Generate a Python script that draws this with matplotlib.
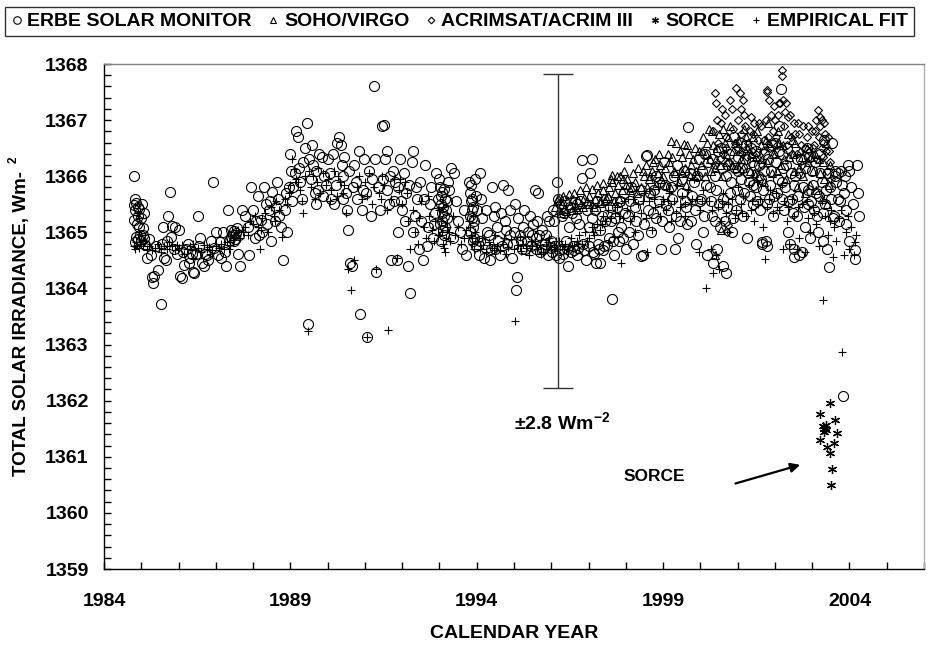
import numpy as np
import matplotlib
matplotlib.use("Agg")
import matplotlib.pyplot as plt

# values: (calendar year, TSI in W/m2)
erbe = [
    (1984.80,1366.00),(1984.81,1365.48),(1984.82,1365.40),(1984.80,1365.22),(1984.83,1364.82),(1984.85,1364.92),
    (1984.86,1365.52),(1984.90,1365.45),(1984.92,1365.30),(1984.95,1365.10),(1984.97,1364.95),(1985.00,1364.85),
    (1985.02,1365.50),(1985.05,1365.08),(1985.08,1364.90),(1985.10,1364.78),
    (1985.15,1364.55),(1985.20,1364.88),(1985.28,1364.20),(1985.32,1364.10),(1985.35,1364.22),(1985.45,1364.32),
    (1985.52,1363.73),(1985.55,1364.80),(1985.58,1365.10),(1985.62,1364.55),(1985.65,1364.50),(1985.72,1365.30),
    (1985.76,1365.72),(1985.80,1364.92),(1985.83,1365.12),(1985.90,1365.10),(1985.95,1364.62),(1986.00,1365.05),
    (1986.05,1364.22),(1986.10,1364.18),(1986.15,1364.42),(1986.20,1364.70),(1986.25,1364.80),(1986.30,1364.55),
    (1986.38,1364.30),(1986.42,1364.28),(1986.48,1364.62),(1986.52,1365.30),(1986.58,1364.90),(1986.62,1364.45),
    (1986.68,1364.40),(1986.75,1364.60),(1986.80,1364.50),(1986.88,1364.85),(1986.92,1365.90),(1987.00,1365.00),
    (1987.05,1364.60),(1987.15,1364.55),(1987.20,1365.00),(1987.28,1364.40),(1987.32,1365.40),(1987.40,1364.92),
    (1987.45,1364.95),(1987.50,1365.02),(1987.52,1364.88),(1987.55,1364.98),(1987.60,1364.62),(1987.65,1364.40),
    (1987.70,1365.40),(1987.78,1365.30),(1987.85,1365.10),(1987.90,1364.60),(1987.95,1365.80),
    (1988.00,1365.40),(1988.05,1364.90),(1988.12,1365.65),(1988.20,1365.22),(1988.25,1365.00),(1988.30,1365.80),
    (1988.35,1365.50),(1988.42,1365.40),(1988.48,1364.85),(1988.52,1365.72),(1988.58,1365.20),(1988.65,1365.90),
    (1988.70,1365.30),(1988.75,1365.10),(1988.80,1364.50),(1988.88,1365.70),(1988.92,1365.00),(1988.98,1366.40),
    (1989.02,1366.10),(1989.08,1365.80),(1989.15,1366.80),(1989.20,1366.70),(1989.25,1365.90),(1989.30,1365.60),
    (1989.46,1363.36),(1989.40,1366.50),(1989.45,1366.95),(1989.50,1366.30),(1989.55,1365.95),(1989.60,1366.20),
    (1989.65,1365.70),(1989.70,1365.50),(1989.78,1366.40),(1989.85,1366.35),(1989.90,1366.00),(1989.95,1365.85),
    (1990.02,1366.30),(1990.10,1365.60),(1990.18,1365.50),(1990.25,1366.60),(1990.30,1366.70),(1990.35,1366.55),
    (1990.40,1366.00),(1990.45,1366.35),(1990.48,1365.70),(1990.52,1365.40),(1990.55,1365.05),(1990.60,1364.45),
    (1990.65,1364.40),(1990.70,1366.20),(1990.75,1365.90),(1990.80,1365.60),(1990.88,1363.55),(1990.92,1365.40),
    (1990.98,1366.30),
    (1991.06,1363.14),(1991.10,1366.10),(1991.15,1365.30),(1991.24,1367.60),(1991.30,1364.30),(1991.35,1365.80),
    (1991.45,1366.90),(1991.52,1366.92),(1991.55,1366.30),(1991.60,1366.45),(1991.65,1365.50),(1991.70,1364.50),
    (1991.75,1366.10),(1991.80,1365.90),(1991.85,1364.50),(1991.90,1365.00),(1991.95,1366.30),
    (1992.00,1365.40),(1992.05,1366.05),(1992.10,1365.70),(1992.15,1364.40),(1992.20,1363.92),(1992.25,1366.25),
    (1992.30,1366.45),(1992.35,1365.30),(1992.40,1365.60),(1992.45,1364.70),(1992.50,1365.20),(1992.55,1364.50),
    (1992.62,1366.20),(1992.70,1365.10),(1992.75,1365.50),(1992.82,1364.90),(1992.88,1365.35),(1992.92,1366.05),
    (1993.00,1365.95),(1993.02,1365.80),(1993.03,1365.65),(1993.05,1365.50),(1993.06,1365.35),(1993.08,1365.20),
    (1993.10,1365.05),(1993.12,1364.95),(1993.15,1365.60),(1993.17,1365.40),(1993.20,1365.25),(1993.25,1365.75),
    (1993.30,1366.15),(1993.35,1364.90),(1993.40,1366.05),(1993.45,1365.55),(1993.50,1365.20),(1993.55,1365.00),
    (1993.60,1364.70),(1993.65,1365.40),(1993.70,1364.60),(1993.80,1365.90),(1993.82,1365.70),(1993.84,1365.55),
    (1993.86,1365.40),(1993.88,1365.25),(1993.90,1365.10),(1993.92,1364.90),(1993.95,1365.95),(1993.98,1364.75),
    (1994.05,1364.60),(1994.10,1366.05),(1994.15,1365.25),(1994.20,1364.55),(1994.28,1365.00),(1994.35,1364.50),
    (1994.40,1365.80),(1994.45,1365.30),(1994.50,1364.70),(1994.55,1365.10),(1994.62,1364.60),(1994.70,1365.85),
    (1994.75,1365.20),(1994.80,1364.80),(1994.85,1365.75),(1994.90,1365.40),(1994.95,1364.55),(1995.00,1365.00),
    (1995.05,1363.97),(1995.08,1364.20),(1995.12,1365.25),(1995.18,1364.85),(1995.25,1365.10),(1995.30,1364.70),
    (1995.38,1365.00),(1995.45,1364.75),(1995.50,1365.15),(1995.55,1365.75),(1995.60,1364.90),(1995.65,1365.70),
    (1995.70,1364.65),(1995.75,1365.05),(1995.82,1364.80),(1995.88,1365.30),(1995.92,1364.60),(1996.00,1364.85),
    (1996.05,1365.40),(1996.10,1364.75),(1996.15,1365.90),(1996.20,1364.55),(1996.25,1365.50),(1996.30,1364.70),
    (1996.35,1365.35),(1996.40,1364.85),(1996.45,1364.40),(1996.50,1365.45),(1996.58,1364.75),(1996.65,1365.25),
    (1996.70,1364.60),(1996.78,1365.55),(1996.85,1364.80),(1996.92,1364.50),(1997.00,1365.10),
    (1997.05,1366.05),(1997.08,1366.30),(1997.12,1364.65),(1997.18,1365.40),(1997.25,1364.80),(1997.30,1364.45),
    (1997.35,1365.30),(1997.42,1364.75),(1997.48,1365.60),(1997.55,1364.90),(1997.60,1365.20),(1997.62,1363.82),
    (1997.68,1364.60),(1997.75,1365.45),(1997.82,1364.85),(1997.88,1365.10),(1997.95,1365.70),
    (1998.00,1364.70),(1998.05,1365.30),(1998.12,1365.55),(1998.20,1364.80),(1998.28,1365.20),(1998.35,1365.60),
    (1998.40,1364.57),(1998.47,1364.60),(1998.55,1366.36),(1998.60,1365.40),(1998.68,1365.00),(1998.75,1365.75),
    (1998.82,1365.25),(1998.90,1365.90),(1998.95,1364.70),
    (1999.02,1366.25),(1999.08,1365.50),(1999.15,1365.10),(1999.20,1365.80),(1999.30,1366.00),(1999.35,1365.30),
    (1999.40,1364.90),(1999.50,1365.70),(1999.55,1366.10),(1999.62,1365.45),(1999.68,1366.87),(1999.75,1365.20),
    (1999.82,1365.90),(1999.88,1364.80),(1999.95,1366.30),
    (2000.02,1365.60),(2000.08,1365.00),(2000.12,1366.40),(2000.18,1364.60),(2000.25,1365.80),(2000.30,1365.30),
    (2000.35,1364.45),(2000.40,1366.00),(2000.45,1364.70),(2000.50,1365.50),(2000.55,1366.50),(2000.60,1364.40),
    (2000.65,1365.20),(2000.70,1364.27),(2000.75,1366.20),(2000.80,1365.70),(2000.85,1365.00),(2000.90,1366.70),
    (2000.95,1365.40),
    (2001.00,1366.10),(2001.05,1365.60),(2001.10,1366.60),(2001.15,1365.30),(2001.20,1366.30),(2001.25,1364.90),
    (2001.30,1365.90),(2001.35,1366.50),(2001.40,1365.50),(2001.45,1366.20),(2001.50,1365.80),(2001.55,1366.00),
    (2001.60,1365.40),(2001.65,1364.80),(2001.70,1366.40),(2001.75,1364.85),(2001.80,1364.75),(2001.85,1365.60),
    (2001.90,1366.10),(2001.95,1365.30),
    (2002.00,1366.60),(2002.05,1365.70),(2002.10,1366.90),(2002.15,1367.55),(2002.18,1366.40),(2002.20,1365.90),
    (2002.25,1365.40),(2002.30,1366.20),(2002.35,1365.00),(2002.40,1364.80),(2002.45,1365.60),(2002.50,1364.70),
    (2002.55,1366.00),(2002.60,1365.30),(2002.65,1364.60),(2002.70,1366.30),(2002.75,1365.80),(2002.80,1365.10),
    (2002.85,1366.50),(2002.90,1365.50),(2002.95,1364.90),
    (2003.00,1366.10),(2003.05,1365.40),(2003.10,1365.70),(2003.15,1365.00),(2003.20,1366.40),(2003.25,1365.90),
    (2003.30,1364.85),(2003.35,1365.50),(2003.40,1364.70),(2003.44,1364.39),(2003.48,1365.80),(2003.53,1366.59),
    (2003.58,1365.30),(2003.62,1366.00),(2003.68,1365.60),(2003.72,1365.20),(2003.78,1366.10),(2003.82,1362.08),
    (2003.85,1365.70),(2003.90,1365.40),(2003.95,1366.20),(2003.98,1364.85),
]

erbe_more = [
    (1984.84,1365.60),(1984.88,1365.15),(1984.90,1364.88),(1984.94,1365.42),(1984.98,1365.25),(1985.04,1364.95),
    (1985.06,1365.35),(1985.25,1364.60),(1985.40,1364.75),(1985.68,1364.85),(1985.88,1364.70),(1986.12,1364.65),
    (1986.28,1364.45),(1986.35,1364.62),(1986.55,1364.75),(1986.72,1364.62),(1986.95,1364.72),(1987.10,1364.82),
    (1987.25,1364.65),(1987.35,1364.85),(1987.42,1365.05),(1987.48,1364.85),(1987.58,1365.08),(1987.62,1364.95),
    (1988.08,1365.20),(1988.15,1364.95),(1988.38,1365.15),(1988.45,1365.55),(1988.62,1365.45),(1988.68,1365.60),
    (1988.85,1365.40),(1988.95,1365.80),
    (1989.05,1365.55),(1989.12,1366.05),(1989.22,1366.15),(1989.35,1366.25),(1989.58,1366.55),(1989.68,1366.10),
    (1989.75,1365.75),(1989.88,1365.65),(1990.05,1366.05),(1990.15,1366.40),(1990.22,1365.85),(1990.38,1366.20),
    (1990.42,1365.60),(1990.58,1366.10),(1990.68,1365.80),(1990.85,1366.45),(1990.95,1365.75),
    (1991.02,1365.70),(1991.20,1365.95),(1991.28,1366.30),(1991.40,1365.40),(1991.48,1365.95),(1991.58,1365.75),
    (1991.68,1366.00),(1991.78,1365.55),(1991.88,1365.80),(1991.98,1365.55),(1992.08,1365.20),(1992.18,1365.85),
    (1992.28,1365.00),(1992.38,1365.80),(1992.48,1365.90),(1992.58,1365.60),(1992.66,1364.75),(1992.78,1365.80),
    (1992.85,1365.15),(1992.95,1365.60),
    (1993.01,1365.15),(1993.04,1364.85),(1993.07,1365.72),(1993.09,1365.45),(1993.11,1365.30),(1993.13,1365.78),
    (1993.16,1365.10),(1993.19,1365.55),(1993.22,1365.90),(1993.81,1365.30),(1993.83,1365.00),(1993.85,1365.85),
    (1993.87,1365.60),(1993.89,1364.85),(1993.91,1365.45),(1993.93,1365.20),(1993.97,1365.65),
    (1994.00,1365.40),(1994.08,1364.85),(1994.12,1365.60),(1994.22,1364.80),(1994.25,1365.40),(1994.32,1364.95),
    (1994.38,1364.70),(1994.48,1365.45),(1994.58,1364.85),(1994.65,1365.35),(1994.68,1364.75),(1994.78,1365.05),
    (1994.88,1364.95),(1994.98,1364.80),(1995.02,1365.50),(1995.15,1364.95),(1995.22,1364.70),(1995.28,1365.40),
    (1995.35,1364.85),(1995.42,1365.30),(1995.48,1364.95),(1995.58,1364.70),(1995.62,1365.20),(1995.68,1364.95),
    (1995.78,1364.70),(1995.85,1364.95),(1995.95,1365.20),(1995.98,1364.72),
    (1996.02,1364.65),(1996.08,1365.20),(1996.12,1364.60),(1996.18,1365.60),(1996.22,1364.68),(1996.28,1365.30),
    (1996.32,1364.62),(1996.38,1365.55),(1996.42,1364.70),(1996.48,1365.10),(1996.52,1364.65),(1996.55,1365.35),
    (1996.62,1364.68),(1996.68,1365.50),(1996.72,1364.72),(1996.75,1365.15),(1996.82,1366.29),(1996.83,1365.96),
    (1996.88,1364.68),(1996.95,1365.40),(1997.02,1364.75),(1997.10,1365.25),(1997.15,1364.62),(1997.20,1364.45),
    (1997.22,1365.55),(1997.28,1364.70),(1997.32,1365.05),(1997.38,1364.68),(1997.45,1365.20),(1997.50,1364.78),
    (1997.58,1365.45),(1997.65,1364.85),(1997.72,1365.25),(1997.78,1365.00),(1997.85,1365.55),(1997.92,1364.90),
    (1997.98,1365.35),
    (1998.08,1365.00),(1998.15,1365.80),(1998.25,1365.45),(1998.32,1364.95),(1998.42,1365.75),(1998.50,1365.15),
    (1998.58,1366.38),(1998.65,1365.70),(1998.72,1365.35),(1998.80,1366.00),(1998.88,1365.55),(1998.98,1365.20),
    (1999.05,1365.85),(1999.12,1365.40),(1999.25,1365.60),(1999.32,1364.71),(1999.38,1366.20),(1999.45,1365.20),
    (1999.52,1365.95),(1999.58,1365.55),(1999.65,1365.15),(1999.72,1366.05),(1999.78,1365.65),(1999.85,1365.40),
    (1999.92,1366.00),(1999.98,1365.55),
    (2000.05,1366.10),(2000.10,1365.30),(2000.15,1365.85),(2000.20,1366.25),(2000.28,1365.55),(2000.32,1366.30),
    (2000.38,1365.20),(2000.42,1365.75),(2000.48,1366.45),(2000.52,1365.10),(2000.58,1366.15),(2000.62,1365.60),
    (2000.68,1366.00),(2000.72,1365.45),(2000.78,1366.40),(2000.82,1365.90),(2000.88,1365.25),(2000.92,1366.15),
    (2000.98,1365.75),(2001.02,1366.35),(2001.08,1365.95),(2001.12,1366.15),(2001.18,1365.70),(2001.22,1366.55),
    (2001.28,1366.05),(2001.32,1365.65),(2001.38,1366.25),(2001.42,1365.85),(2001.48,1366.45),(2001.52,1365.55),
    (2001.58,1366.20),(2001.62,1365.95),(2001.66,1364.82),(2001.68,1365.75),(2001.72,1366.10),(2001.78,1365.50),
    (2001.82,1366.30),(2001.88,1365.85),(2001.92,1366.55),(2001.98,1365.65),
    (2002.02,1366.25),(2002.08,1365.95),(2002.12,1366.45),(2002.18,1365.60),(2002.22,1366.15),(2002.28,1365.80),
    (2002.32,1366.50),(2002.38,1365.55),(2002.42,1366.05),(2002.48,1365.35),(2002.50,1364.56),(2002.52,1365.85),
    (2002.58,1366.30),(2002.62,1365.65),(2002.68,1366.05),(2002.72,1364.65),(2002.78,1365.45),(2002.82,1366.15),
    (2002.88,1365.75),(2002.92,1366.35),(2002.98,1365.55),(2003.02,1365.85),(2003.08,1366.25),(2003.12,1365.30),
    (2003.18,1365.65),(2003.22,1366.05),(2003.28,1365.35),(2003.32,1366.64),(2003.38,1365.75),(2003.42,1366.05),
    (2003.50,1365.60),(2003.55,1365.25),(2003.60,1366.10),(2003.65,1365.90),(2003.70,1366.05),(2003.75,1365.55),
    (2003.80,1365.85),(2003.88,1366.00),(2003.92,1365.15),(2004.00,1366.10),(2004.05,1365.80),(2004.10,1365.50),
    (2004.15,1364.68),(2004.14,1364.52),(2004.20,1366.20),(2004.22,1365.70),(2004.25,1365.30),
]

soho = [
    (1996.10,1365.45),(1996.15,1365.55),(1996.20,1365.40),(1996.28,1365.50),(1996.35,1365.42),(1996.42,1365.55),
    (1996.50,1365.48),(1996.58,1365.60),(1996.65,1365.45),(1996.72,1365.58),(1996.80,1365.50),(1996.88,1365.62),
    (1996.95,1365.55),(1997.02,1365.65),(1997.10,1365.50),(1997.18,1365.60),(1997.25,1365.70),(1997.32,1365.55),
    (1997.40,1365.75),(1997.48,1365.62),(1997.55,1365.80),(1997.62,1365.90),(1997.70,1365.70),(1997.78,1365.85),
    (1997.85,1366.00),(1997.92,1365.95),(1998.00,1365.85),(1998.05,1366.32),(1998.10,1365.75),(1998.18,1366.05),
    (1998.25,1365.90),(1998.32,1366.15),(1998.40,1365.80),(1998.48,1366.00),(1998.55,1366.20),(1998.62,1365.95),
    (1998.70,1366.10),(1998.78,1366.30),(1998.85,1366.05),(1998.92,1366.20),(1999.00,1366.00),(1999.08,1365.85),
    (1999.15,1366.25),(1999.20,1366.62),(1999.28,1366.10),(1999.35,1366.60),(1999.42,1365.90),(1999.50,1366.35),
    (1999.58,1366.15),(1999.65,1366.55),(1999.72,1366.00),(1999.80,1366.30),(1999.88,1366.10),(1999.95,1366.45),
    (2000.02,1366.20),(2000.08,1366.70),(2000.15,1366.40),(2000.22,1366.85),(2000.28,1366.10),(2000.35,1366.55),
    (2000.40,1364.60),(2000.42,1366.30),(2000.50,1366.75),(2000.55,1365.05),(2000.58,1366.00),(2000.65,1366.60),
    (2000.72,1366.25),(2000.80,1366.90),(2000.88,1366.45),(2000.95,1366.15),(2001.02,1366.65),(2001.10,1366.30),
    (2001.18,1366.85),(2001.25,1366.50),(2001.32,1366.10),(2001.40,1366.70),(2001.48,1366.35),(2001.55,1366.00),
    (2001.62,1366.55),(2001.70,1365.90),(2001.78,1366.25),(2001.85,1366.60),(2001.92,1366.05),(2002.00,1366.40),
    (2002.08,1366.80),(2002.15,1366.20),(2002.22,1366.55),(2002.30,1365.95),(2002.38,1366.35),(2002.45,1366.65),
    (2002.52,1366.10),(2002.60,1365.80),(2002.68,1366.45),(2002.75,1366.00),(2002.82,1365.70),(2002.90,1366.25),
    (2002.95,1365.85),(2003.02,1366.10),(2003.10,1365.75),(2003.18,1366.30),(2003.25,1365.60),(2003.32,1365.95),
    (2003.40,1365.50),(2003.48,1366.20),
]

soho_more = [
    (1996.18,1365.62),(1996.25,1365.35),(1996.32,1365.65),(1996.40,1365.38),(1996.48,1365.68),(1996.55,1365.40),
    (1996.62,1365.70),(1996.70,1365.42),(1996.78,1365.75),(1996.85,1365.45),(1996.92,1365.80),(1997.00,1365.50),
    (1997.08,1365.78),(1997.15,1365.45),(1997.22,1365.85),(1997.30,1365.52),(1997.38,1365.88),(1997.45,1365.55),
    (1997.52,1365.65),(1997.60,1365.95),(1997.64,1366.02),(1997.68,1365.55),(1997.75,1366.00),(1997.82,1365.60),
    (1997.90,1365.75),(1997.95,1366.10),
    (1998.02,1365.95),(1998.15,1365.80),(1998.30,1365.70),(1998.45,1366.10),(1998.58,1365.80),(1998.65,1366.00),
    (1998.68,1365.70),(1998.72,1366.25),(1998.82,1365.85),(1998.88,1366.40),(1998.95,1365.95),(1999.05,1366.15),
    (1999.12,1366.40),(1999.18,1365.80),(1999.25,1366.35),(1999.32,1366.05),(1999.45,1366.45),(1999.52,1366.05),
    (1999.55,1366.58),(1999.62,1365.85),(1999.70,1366.40),(1999.75,1366.20),(1999.85,1366.50),(1999.92,1366.00),
    (2000.05,1366.45),(2000.12,1366.00),(2000.18,1366.60),(2000.25,1366.30),(2000.32,1366.80),(2000.38,1366.15),
    (2000.45,1366.50),(2000.52,1366.20),(2000.62,1366.85),(2000.68,1366.40),(2000.75,1366.70),(2000.85,1366.20),
    (2000.92,1366.60),(2001.05,1366.45),(2001.15,1366.15),(2001.22,1366.70),(2001.35,1366.40),(2001.45,1366.05),
    (2001.52,1366.80),(2001.65,1366.30),(2001.75,1366.65),(2001.82,1366.95),(2001.95,1366.40),(2002.05,1366.10),
    (2002.12,1366.60),(2002.25,1366.30),(2002.35,1366.75),(2002.48,1366.40),(2002.55,1366.60),(2002.65,1366.15),
    (2002.72,1366.35),(2002.85,1366.50),(2002.98,1366.35),(2003.08,1366.40),(2003.22,1366.05),(2003.30,1366.25),
    (2003.38,1366.60),(2003.45,1365.85),
]

acrim = [
    (2000.35,1366.80),(2000.40,1367.48),(2000.42,1367.30),(2000.48,1366.60),(2000.55,1366.95),(2000.60,1366.40),
    (2000.65,1367.10),(2000.70,1366.70),(2000.75,1365.13),(2000.72,1365.00),(2000.80,1367.35),(2000.88,1366.85),
    (2000.95,1367.57),(2001.00,1366.50),(2001.05,1367.48),(2001.10,1367.20),(2001.15,1367.36),(2001.20,1366.90),
    (2001.28,1366.60),(2001.35,1367.05),(2001.42,1366.75),(2001.50,1366.40),(2001.58,1366.95),(2001.65,1366.20),
    (2001.72,1366.65),(2001.80,1367.54),(2001.84,1367.36),(2001.90,1367.10),(2001.95,1366.80),(2002.00,1367.00),
    (2002.05,1366.55),(2002.10,1367.30),(2002.18,1367.89),(2002.19,1367.79),(2002.22,1367.36),(2002.30,1367.30),
    (2002.35,1367.05),(2002.42,1366.70),(2002.50,1366.95),(2002.58,1366.40),(2002.65,1366.75),(2002.72,1366.20),
    (2002.80,1366.50),(2002.88,1366.90),(2002.95,1366.30),(2003.00,1366.80),(2003.05,1366.55),(2003.10,1367.00),
    (2003.16,1367.18),(2003.20,1367.06),(2003.22,1366.90),(2003.25,1367.00),(2003.28,1366.60),(2003.30,1366.35),
    (2003.35,1366.75),(2003.40,1366.10),(2003.45,1366.45),(2003.50,1365.95),
]

acrim_more = [
    (2000.38,1366.20),(2000.45,1367.00),(2000.52,1366.30),(2000.58,1367.20),(2000.68,1366.50),(2000.78,1366.25),
    (2000.85,1367.20),(2000.92,1366.60),(2001.02,1367.00),(2001.08,1366.75),(2001.12,1366.40),(2001.18,1367.10),
    (2001.25,1366.35),(2001.32,1366.80),(2001.38,1366.45),(2001.45,1366.95),(2001.55,1366.65),(2001.62,1366.90),
    (2001.68,1366.45),(2001.75,1367.00),(2001.78,1367.50),(2001.82,1366.70),(2001.88,1366.50),(2001.98,1367.25),
    (2002.02,1366.70),(2002.08,1367.10),(2002.14,1367.30),(2002.25,1366.90),(2002.28,1367.15),(2002.32,1366.55),
    (2002.40,1367.10),(2002.45,1366.40),(2002.55,1366.75),(2002.62,1366.95),(2002.70,1366.55),(2002.75,1366.90),
    (2002.85,1366.70),(2002.92,1366.45),(2003.02,1366.50),(2003.08,1366.80),(2003.12,1366.30),(2003.18,1366.70),
    (2003.26,1366.50),(2003.32,1366.95),(2003.38,1366.45),(2003.42,1366.70),(2003.48,1366.25),
]

sorce = [
    (2003.48,1361.95),(2003.21,1361.77),(2003.61,1361.65),(2003.30,1361.55),(2003.33,1361.50),(2003.35,1361.52),
    (2003.37,1361.47),(2003.32,1361.45),(2003.36,1361.56),(2003.66,1361.43),(2003.21,1361.30),(2003.59,1361.25),
    (2003.40,1361.18),(2003.48,1361.06),(2003.52,1360.79),(2003.50,1360.50),
]

fit = [
    (1984.80,1364.75),(1984.82,1364.70),(1984.85,1364.82),(1984.88,1364.78),(1984.90,1365.35),(1984.93,1365.25),
    (1984.95,1364.72),(1985.00,1364.80),(1985.05,1364.75),(1985.10,1364.85),(1985.15,1364.70),
    (1985.22,1364.75),(1985.30,1364.68),(1985.38,1364.72),(1985.45,1364.80),(1985.52,1364.65),(1985.60,1364.75),
    (1985.68,1364.70),(1985.75,1364.82),(1985.82,1364.75),(1985.90,1364.68),(1986.00,1364.72),(1986.08,1364.78),
    (1986.15,1364.62),(1986.22,1364.70),(1986.30,1364.75),(1986.38,1364.55),(1986.45,1364.68),(1986.52,1364.72),
    (1986.60,1364.65),(1986.68,1364.78),(1986.75,1364.70),(1986.82,1364.74),(1986.90,1364.68),(1987.00,1364.75),
    (1987.08,1364.72),(1987.15,1364.80),(1987.22,1364.70),(1987.30,1364.82),(1987.38,1364.78),(1987.45,1364.86),
    (1987.50,1364.90),(1987.55,1364.95),(1987.60,1365.05),(1987.65,1364.90),(1987.72,1365.00),(1987.78,1365.10),
    (1987.85,1364.95),(1987.92,1365.20),(1988.00,1365.15),(1988.05,1365.30),(1988.12,1365.10),(1988.18,1364.70),
    (1988.25,1365.25),(1988.32,1365.35),(1988.40,1365.00),(1988.48,1365.45),(1988.55,1365.30),(1988.62,1365.55),
    (1988.70,1365.40),(1988.78,1364.92),(1988.85,1365.60),(1988.92,1365.50),
    (1989.00,1365.85),(1989.05,1366.30),(1989.10,1366.12),(1989.15,1365.95),(1989.20,1365.90),(1989.25,1365.75),
    (1989.30,1365.55),(1989.35,1365.35),(1989.46,1363.25),(1989.50,1366.10),(1989.55,1365.80),(1989.60,1366.00),
    (1989.65,1365.60),(1989.72,1365.90),(1989.80,1365.70),(1989.88,1366.05),(1989.95,1365.85),
    (1990.02,1365.95),(1990.10,1365.75),(1990.18,1366.10),(1990.25,1365.65),(1990.32,1365.90),(1990.40,1365.70),
    (1990.48,1365.35),(1990.55,1364.35),(1990.64,1363.97),(1990.70,1364.50),(1990.78,1365.80),(1990.85,1366.00),
    (1990.92,1365.60),
    (1991.00,1365.90),(1991.06,1363.14),(1991.10,1366.05),(1991.18,1365.50),(1991.25,1365.80),(1991.30,1364.35),
    (1991.38,1365.70),(1991.45,1366.00),(1991.52,1365.85),(1991.62,1363.26),(1991.70,1365.60),(1991.78,1365.95),
    (1991.85,1364.55),(1991.92,1365.75),
    (1992.00,1365.50),(1992.08,1365.90),(1992.15,1365.20),(1992.22,1364.70),(1992.28,1365.40),(1992.35,1365.00),
    (1992.42,1364.80),(1992.50,1365.55),(1992.58,1365.10),(1992.65,1364.90),(1992.72,1365.30),(1992.80,1365.05),
    (1992.88,1365.20),(1992.95,1364.95),
    (1993.00,1365.40),(1993.03,1365.20),(1993.06,1365.00),(1993.09,1364.80),(1993.12,1364.72),(1993.15,1364.65),
    (1993.20,1365.10),(1993.28,1364.85),(1993.35,1365.30),(1993.42,1364.95),(1993.50,1365.10),(1993.58,1364.80),
    (1993.65,1364.90),(1993.72,1365.05),(1993.80,1365.20),(1993.84,1364.95),(1993.88,1364.80),(1993.92,1364.70),
    (1993.96,1365.00),
    (1994.02,1364.85),(1994.10,1364.70),(1994.18,1364.78),(1994.25,1364.65),(1994.32,1364.82),(1994.40,1364.72),
    (1994.48,1364.95),(1994.55,1364.75),(1994.62,1364.68),(1994.70,1364.80),(1994.78,1364.62),(1994.85,1364.74),
    (1994.92,1364.88),(1995.00,1364.70),(1995.04,1363.42),(1995.10,1364.78),(1995.18,1364.66),(1995.25,1364.80),
    (1995.32,1364.72),(1995.40,1364.60),(1995.48,1364.76),(1995.55,1364.85),(1995.62,1364.70),(1995.70,1364.78),
    (1995.78,1364.65),(1995.85,1364.75),(1995.92,1364.82),(1996.00,1364.70),
    (1996.08,1364.78),(1996.15,1364.70),(1996.22,1364.85),(1996.30,1364.75),(1996.38,1364.80),(1996.45,1364.68),
    (1996.52,1364.90),(1996.60,1364.78),(1996.68,1364.85),(1996.75,1364.95),(1996.82,1364.80),(1996.90,1365.00),
    (1997.00,1364.90),(1997.08,1365.10),(1997.15,1364.95),(1997.22,1365.15),(1997.30,1365.05),(1997.38,1365.30),
    (1997.45,1365.20),(1997.52,1365.40),(1997.60,1365.25),(1997.68,1364.92),(1997.75,1365.45),(1997.82,1365.30),
    (1997.88,1364.45),(1997.95,1365.55),
    (1998.02,1365.40),(1998.10,1365.20),(1998.18,1365.60),(1998.25,1365.00),(1998.32,1365.50),(1998.40,1365.35),
    (1998.48,1365.70),(1998.55,1365.25),(1998.62,1365.55),(1998.70,1365.05),(1998.78,1365.45),(1998.85,1365.80),
    (1998.92,1365.30),(1999.00,1365.60),(1999.08,1365.40),(1999.15,1365.70),(1999.22,1365.20),(1999.30,1365.55),
    (1999.38,1365.85),(1999.45,1365.45),(1999.52,1365.65),(1999.60,1365.30),(1999.68,1365.75),(1999.75,1365.50),
    (1999.82,1365.95),(1999.90,1365.60),
    (2000.00,1365.40),(2000.08,1365.75),(2000.15,1364.00),(2000.22,1365.55),(2000.28,1364.70),(2000.35,1364.27),
    (2000.42,1364.60),(2000.48,1365.45),(2000.55,1365.20),(2000.62,1365.70),(2000.70,1365.35),(2000.78,1365.00),
    (2000.85,1365.60),(2000.92,1365.25),(2001.00,1365.80),(2001.08,1365.50),(2001.15,1365.65),(2001.22,1365.30),
    (2001.30,1365.85),(2001.38,1365.55),(2001.45,1365.20),(2001.52,1365.90),(2001.60,1365.60),(2001.68,1365.10),
    (2001.74,1364.52),(2001.80,1365.45),(2001.88,1365.75),(2001.95,1365.35),
    (2002.02,1365.70),(2002.10,1365.40),(2002.18,1365.85),(2002.25,1365.55),(2002.32,1365.20),(2002.38,1364.80),
    (2002.45,1365.60),(2002.52,1365.30),(2002.58,1364.70),(2002.65,1364.90),(2002.72,1365.50),(2002.80,1364.65),
    (2002.88,1365.25),(2002.95,1365.00),(2003.02,1365.45),(2003.10,1365.15),(2003.18,1364.75),(2003.28,1363.80),
    (2003.35,1365.30),(2003.42,1364.95),(2003.50,1365.40),(2003.58,1365.10),(2003.65,1364.85),(2003.72,1365.25),
    (2003.79,1362.87),(2003.85,1364.60),(2003.92,1365.00),(2003.98,1364.70),
]

fit_more = [
    (1985.00,1364.95),(1985.48,1364.72),(1985.95,1364.78),(1986.40,1364.80),(1986.85,1364.62),(1987.35,1364.70),
    (1988.22,1365.05),(1988.60,1365.20),(1988.95,1365.70),(1989.40,1366.00),(1989.75,1366.15),(1990.05,1365.55),
    (1990.28,1366.00),(1990.45,1365.85),(1991.05,1365.65),(1991.42,1365.60),(1991.58,1365.40),(1991.95,1365.95),
    (1992.12,1365.70),(1992.45,1365.25),(1992.68,1365.65),(1992.85,1364.85),(1993.10,1365.45),(1993.18,1364.90),
    (1993.25,1365.00),(1993.82,1365.10),(1993.86,1364.90),(1993.90,1365.30),(1994.15,1364.90),(1994.45,1364.68),
    (1994.72,1364.90),(1995.15,1364.92),(1995.45,1364.85),(1995.72,1364.62),(1995.95,1364.90),(1996.12,1364.85),
    (1996.35,1364.70),(1996.55,1364.75),(1996.72,1364.80),(1996.95,1364.85),(1997.12,1365.00),(1997.35,1365.15),
    (1997.55,1364.82),(1997.72,1365.35),(1997.92,1365.25),(1998.05,1365.60),(1998.22,1365.30),(1998.45,1365.55),
    (1998.56,1364.65),(1998.75,1365.60),(1998.95,1365.50),(1999.12,1365.55),(1999.35,1365.35),(1999.58,1365.50),
    (1999.78,1365.60),(1999.95,1364.65),(2000.05,1365.55),(2000.32,1365.40),(2000.50,1364.35),(2000.58,1365.55),
    (2000.75,1365.50),(2000.95,1365.40),(2001.12,1365.35),(2001.35,1365.40),(2001.55,1365.50),(2001.85,1365.60),
    (2002.05,1365.45),(2002.22,1364.71),(2002.35,1365.45),(2002.62,1365.45),(2002.85,1365.55),(2003.05,1365.35),
    (2003.25,1365.55),(2003.48,1365.20),(2003.57,1364.56),(2003.78,1365.40),(2003.95,1365.30),(2004.05,1365.10),
    (2004.15,1364.83),(2004.18,1364.95),(2004.12,1364.60),
]

year_ticks = [1984, 1989, 1994, 1999, 2004]
tsi_ticks = list(range(1359, 1369))

plt.rcParams['font.family'] = ['Liberation Sans', 'DejaVu Sans']
plt.rcParams['font.weight'] = 'bold'
plt.rcParams['mathtext.fontset'] = 'custom'
plt.rcParams['mathtext.rm'] = 'Liberation Sans:bold'
plt.rcParams['mathtext.default'] = 'rm'

fig = plt.figure(figsize=(9.33, 6.46), dpi=100)
ax = fig.add_axes([104/933, 1-569/646, 820/933, 505/646])

def xy(pts):
    a = np.array(pts)
    return a[:, 0], a[:, 1]

x, y = xy(erbe + erbe_more)
ax.plot(x, y, ls='none', marker='o', ms=7.2, mfc='none', mec='black', mew=0.8,
        label='ERBE SOLAR MONITOR')
x, y = xy(soho + soho_more)
ax.plot(x, y, ls='none', marker='^', ms=5.5, mfc='none', mec='black', mew=0.8,
        label='SOHO/VIRGO')
x, y = xy(acrim + acrim_more)
ax.plot(x, y, ls='none', marker='D', ms=4.5, mfc='none', mec='black', mew=0.8,
        label='ACRIMSAT/ACRIM III')
x, y = xy(sorce)
ax.plot(x, y, ls='none', marker=(6, 2, 0), ms=6.5, mec='black', mew=0.9,
        label='SORCE')
x, y = xy(fit + fit_more)
ax.plot(x, y, ls='none', marker='+', ms=6, mec='black', mew=0.8,
        label='EMPIRICAL FIT')

# uncertainty bar
ax.errorbar([1996.17], [1365.02], yerr=[[2.8], [2.8]], fmt='none', ecolor='#333333',
            elinewidth=1, capsize=11, capthick=1)
ax.text(1995.0, 1361.62, '±2.8 Wm$^{-2}$', fontsize=14, fontweight='bold',
        ha='left', va='center')

ax.annotate('', xy=(2002.75, 1360.87), xytext=(2000.87, 1360.51),
            arrowprops=dict(arrowstyle='-|>', color='black', lw=1.6, mutation_scale=14))
ax.text(1997.93, 1360.64, 'SORCE', fontsize=12.5, fontweight='bold', ha='left', va='center')

ax.set_xlim(1984, 2006)
ax.set_ylim(1359, 1368)
ax.set_xticks(year_ticks)
ax.set_xticks(np.arange(1984, 2007), minor=True)
ax.set_yticks(tsi_ticks)
ax.set_yticks(np.arange(1359, 1368.01, 0.2), minor=True)
ax.tick_params(which='both', direction='in', length=5, width=1, color='black')
ax.tick_params(axis='x', labelsize=14, pad=17)
ax.tick_params(axis='y', labelsize=14, pad=11)
for lab in ax.get_xticklabels() + ax.get_yticklabels():
    lab.set_fontweight('bold')

ax.spines['left'].set_color('black')
ax.spines['bottom'].set_color('black')
ax.spines['top'].set_color('#808080')
ax.spines['right'].set_color('#b0b0b0')
for s in ax.spines.values():
    s.set_linewidth(1)

fig.text(514/933, 1-633/646, 'CALENDAR YEAR', fontsize=14, fontweight='bold',
         ha='center', va='center')
fig.text(22/933, 1-324/646, 'TOTAL SOLAR IRRADIANCE, Wm-', fontsize=13.5,
         fontweight='bold', rotation=90, ha='center', va='center')
fig.text(14/933, 1-160/646, '2', fontsize=8.5, fontweight='bold', rotation=90,
         ha='center', va='center')

leg = fig.legend(loc='upper left', bbox_to_anchor=(5/933, 1-7/646), ncol=5,
                 frameon=True, fancybox=False, edgecolor='black', prop={'size': 14, 'weight': 'bold'},
                 handlelength=0.6, handletextpad=0.25, columnspacing=0.8, borderpad=0.3,
                 borderaxespad=0, markerscale=0.75)
leg.get_frame().set_linewidth(1)

fig.savefig('out.png', dpi=100)
